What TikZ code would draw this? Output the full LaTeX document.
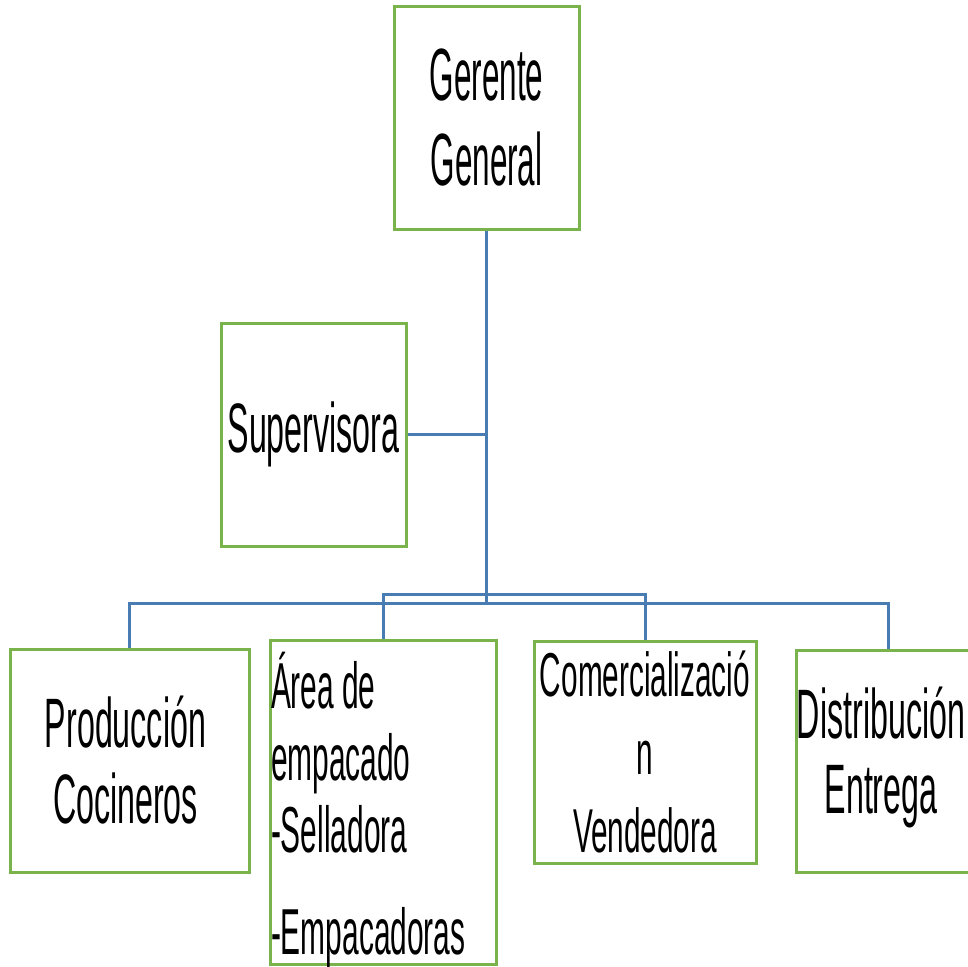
\documentclass[tikz,border=0pt]{standalone}
\usepackage{fontspec}
\newfontfamily\fA[FakeStretch=0.425,WordSpace=0.425]{Liberation Sans}
\newfontfamily\fB[FakeStretch=0.46,WordSpace=0.46]{Liberation Sans}
\newfontfamily\fC[FakeStretch=0.48,WordSpace=0.48]{Liberation Sans}
\definecolor{boxgreen}{RGB}{122,178,75}
\definecolor{linkblue}{RGB}{72,124,178}
\begin{document}
\begin{tikzpicture}[x=1pt,y=-1pt,
  orgbox/.style={draw=boxgreen, line width=3pt, rectangle, inner sep=0pt, align=center, text=black},
  boxtext/.style={inner sep=0pt, text=black},
  link/.style={draw=linkblue, line width=3pt}]
\useasboundingbox[fill=white] (0,0) rectangle (968,966);
\node[orgbox, minimum width=185pt, minimum height=222pt, font=\fA\fontsize{74}{85}\selectfont] (G) at (486.5,118) {Gerente\\General};
\node[orgbox, minimum width=185pt, minimum height=223pt, font=\fB\fontsize{70}{80}\selectfont] (S) at (313.5,434.5) {Supervisora};
\node[orgbox, minimum width=239pt, minimum height=223pt] (P) at (129.5,760.5) {};
\node[boxtext, align=center, font=\fB\fontsize{70}{76}\selectfont] (Pt) at (125.5,760.5) {Producción\\Cocineros};
\node[orgbox, minimum width=226pt, minimum height=324pt] (A) at (383,802) {};
\node[boxtext, text width=224pt, align=left, font=\fB\fontsize{65}{72}\selectfont] (At) at ([yshift=-8pt]A.center) {Área\hspace{8pt}de\\empacado\\-Selladora\\[30pt]-Empacadoras};
\node[orgbox, minimum width=222pt, minimum height=222pt, font=\fC\fontsize{62}{78}\selectfont] (C) at (645,752) {Comercializació\\n\\Vendedora};
\node[orgbox, minimum width=184pt, minimum height=222pt] (D) at (888,761) {};
\node[boxtext, align=center, font=\fB\fontsize{70}{75}\selectfont] (Dt) at (881,757) {Distribución\\Entrega};
\coordinate (j) at (486.5,603);
\coordinate (u) at (486.5,594);
\draw[link] (G.south) -- (j);
\draw[link] (S.east) -- (S.east -| G.south);
\draw[link] (j) -| (P.north);
\draw[link] (j) -| (D.north);
\draw[link] (u) -| (A.north);
\draw[link] (u) -| (C.north);
\end{tikzpicture}
\end{document}
